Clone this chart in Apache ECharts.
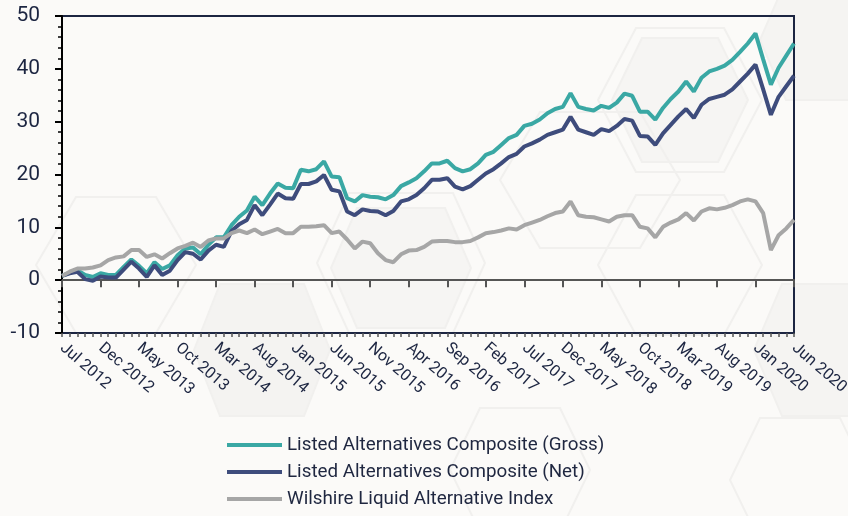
<!DOCTYPE html>
<html><head><meta charset="utf-8">
<script src="https://cdn.jsdelivr.net/npm/echarts@6/dist/echarts.min.js"></script>
<style>html,body{margin:0;padding:0;background:#fbfaf8}#c{width:848px;height:516px}</style>
</head><body><div id="c"></div><script>
const months = [
'Jul 2012','Aug 2012','Sep 2012','Oct 2012','Nov 2012','Dec 2012',
'Jan 2013','Feb 2013','Mar 2013','Apr 2013','May 2013','Jun 2013','Jul 2013','Aug 2013','Sep 2013','Oct 2013','Nov 2013','Dec 2013',
'Jan 2014','Feb 2014','Mar 2014','Apr 2014','May 2014','Jun 2014','Jul 2014','Aug 2014','Sep 2014','Oct 2014','Nov 2014','Dec 2014',
'Jan 2015','Feb 2015','Mar 2015','Apr 2015','May 2015','Jun 2015','Jul 2015','Aug 2015','Sep 2015','Oct 2015','Nov 2015','Dec 2015',
'Jan 2016','Feb 2016','Mar 2016','Apr 2016','May 2016','Jun 2016','Jul 2016','Aug 2016','Sep 2016','Oct 2016','Nov 2016','Dec 2016',
'Jan 2017','Feb 2017','Mar 2017','Apr 2017','May 2017','Jun 2017','Jul 2017','Aug 2017','Sep 2017','Oct 2017','Nov 2017','Dec 2017',
'Jan 2018','Feb 2018','Mar 2018','Apr 2018','May 2018','Jun 2018','Jul 2018','Aug 2018','Sep 2018','Oct 2018','Nov 2018','Dec 2018',
'Jan 2019','Feb 2019','Mar 2019','Apr 2019','May 2019','Jun 2019','Jul 2019','Aug 2019','Sep 2019','Oct 2019','Nov 2019','Dec 2019',
'Jan 2020','Feb 2020','Mar 2020','Apr 2020','May 2020','Jun 2020'];

const gross = [0.8,1.4,1.9,1.0,0.6,1.3,1.0,1.0,2.5,3.9,2.7,1.3,3.4,2.1,2.8,4.7,6.0,6.2,4.9,6.7,
8.1,8.1,10.4,12.0,13.2,15.8,14.2,16.4,18.3,17.5,17.4,20.9,20.6,21.0,22.5,19.6,19.5,15.5,14.9,16.1,
15.8,15.7,15.3,16.1,17.8,18.5,19.3,20.6,22.1,22.1,22.6,21.2,20.6,21.0,22.1,23.7,24.3,25.6,26.9,27.5,
29.2,29.6,30.4,31.6,32.4,32.8,35.4,32.8,32.4,32.1,33.0,32.6,33.6,35.3,34.9,31.9,31.9,30.4,32.6,34.3,
35.7,37.6,35.7,38.3,39.5,40.0,40.6,41.7,43.2,44.8,46.7,41.8,37.0,40.2,42.5,44.8];

const net = [0.8,1.3,1.6,0.2,-0.1,0.7,0.5,0.5,2.0,3.5,2.2,0.6,2.8,1.0,1.8,3.8,5.3,5.0,3.9,5.6,
6.7,6.3,9.3,10.6,11.4,14.2,12.3,14.3,16.4,15.5,15.4,18.2,18.2,18.7,19.9,17.1,16.8,13.0,12.3,13.4,
13.1,13.0,12.3,13.1,14.9,15.3,16.1,17.4,19.0,19.0,19.3,17.7,17.2,17.8,19.0,20.2,21.0,22.1,23.3,23.9,
25.3,25.9,26.6,27.5,28.0,28.5,30.9,28.5,28.0,27.5,28.6,28.2,29.2,30.5,30.2,27.3,27.2,25.6,27.8,29.4,
31.0,32.4,30.7,33.2,34.3,34.7,35.1,36.1,37.6,39.1,40.8,36.1,31.3,34.7,36.7,38.7];

const wilshire = [0.8,1.6,2.2,2.2,2.4,2.8,3.8,4.3,4.5,5.7,5.7,4.4,4.9,4.1,5.1,6.0,6.5,7.1,6.3,7.5,
7.9,7.9,8.9,9.4,8.9,9.6,8.7,9.2,9.7,8.9,8.9,10.1,10.1,10.2,10.4,8.9,9.2,7.7,6.0,7.3,
7.0,5.1,3.8,3.4,4.9,5.6,5.7,6.3,7.3,7.4,7.4,7.2,7.2,7.4,8.1,8.9,9.1,9.4,9.8,9.6,
10.4,10.9,11.4,12.1,12.7,13.0,14.9,12.3,12.0,11.9,11.5,11.1,12.0,12.3,12.3,10.1,9.8,8.1,10.1,10.9,
11.5,12.7,11.3,13.0,13.6,13.4,13.7,14.2,14.9,15.3,14.9,12.7,5.7,8.5,9.8,11.4];

const seriesNames = ['Listed Alternatives Composite (Gross)','Listed Alternatives Composite (Net)','Wilshire Liquid Alternative Index'];
const seriesColors = ['#3aa8a4','#3e4c7c','#a6a6a6'];
const yMin = -10, yMax = 50, yStep = 10;

function hex(cx, cy, hw, ht, hh) {
  return [[cx-hw,cy],[cx-ht,cy-hh],[cx+ht,cy-hh],[cx+hw,cy],[cx+ht,cy+hh],[cx-ht,cy+hh]];
}
const deco = [
  {p: hex(116,265,80,40,68), fill: 'rgba(0,0,0,0)'},
  {p: hex(401,263,84,52,70), fill: 'rgba(0,0,0,0)'},
  {p: hex(401,268,70,44,60), fill: '#f6f5f3'},
  {p: hex(262,350,68,42,66), fill: '#f4f3f1'},
  {p: hex(680,100,82,44,72), fill: 'rgba(0,0,0,0)'},
  {p: hex(680,100,68,38,62), fill: '#f6f5f3'},
  {p: hex(680,265,82,44,70), fill: 'rgba(0,0,0,0)'},
  {p: hex(590,180,90,50,68), fill: 'rgba(0,0,0,0)'},
  {p: hex(820,40,60,34,60), fill: '#f5f4f2'},
  {p: hex(820,350,66,38,66), fill: '#f5f4f2'},
  {p: hex(520,470,70,40,62), fill: 'rgba(0,0,0,0)'},
  {p: hex(800,480,70,40,62), fill: 'rgba(0,0,0,0)'}
];

const chart = echarts.init(document.getElementById('c'));
chart.setOption({
  backgroundColor: '#fbfaf8',
  animation: false,
  textStyle: {fontFamily: 'Roboto'},
  graphic: deco.map(d => ({type:'polygon', z:-10, silent:true, shape:{points:d.p},
    style:{fill:d.fill, stroke:'#f1f0ee', lineWidth:2}})),
  grid: {left:62, right:54, top:16, bottom:183, show:true, borderColor:'#1c2541', borderWidth:2,
    backgroundColor:'transparent', outerBoundsMode:'none', containLabel:false},
  legend: {
    orient:'vertical', left:222, top:430, itemWidth:55, itemHeight:4, itemGap:7, icon:'rect',
    textStyle:{fontSize:18.8, color:'#1f2740', fontFamily:'Roboto', lineHeight:20},
    data: seriesNames
  },
  xAxis: [{
    type:'category', data:months, boundaryGap:false,
    axisLine:{lineStyle:{color:'#555', width:2}},
    axisTick:{interval:4, length:7, lineStyle:{color:'#555', width:2}},
    axisLabel:{interval:4, rotate:-41, fontSize:16, color:'#1c2541', margin:13, fontFamily:'Roboto'},
    splitLine:{show:false}
  },{
    type:'category', data:months, boundaryGap:false, position:'bottom',
    axisLine:{show:false},
    axisTick:{interval:0, length:4, lineStyle:{color:'#555', width:1.5}},
    axisLabel:{show:false}, splitLine:{show:false}
  }],
  yAxis: {
    type:'value', min:yMin, max:yMax, interval:yStep,
    axisLine:{show:true, lineStyle:{color:'#000', width:2}},
    axisTick:{show:true, length:7, lineStyle:{color:'#000', width:2}},
    minorTick:{show:true, splitNumber:5, length:4, lineStyle:{color:'#000', width:1.5}},
    splitLine:{show:false},
    axisLabel:{fontSize:21, color:'#1c2541', margin:22, fontFamily:'Roboto'}
  },
  series: [gross, net, wilshire].map((d,i) => ({
    name: seriesNames[i], type:'line', data:d, symbol:'none', smooth:false,
    color: seriesColors[i], lineStyle:{width:4, color:seriesColors[i]}
  }))
});
</script></body></html>
